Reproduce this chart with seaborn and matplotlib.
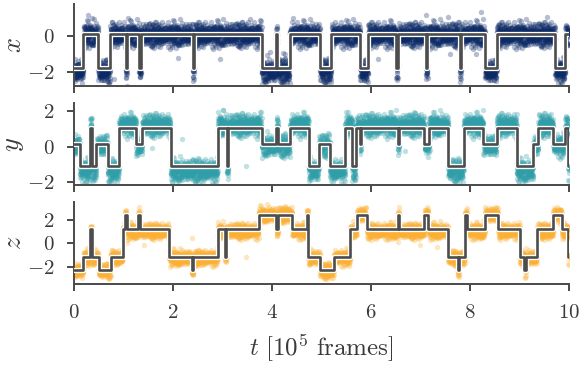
import numpy as np
import pandas as pd
import matplotlib
matplotlib.use("Agg")
import matplotlib.pyplot as plt
import matplotlib.patheffects as pe
import seaborn as sns

# ---- state sequences (start time of each segment, in 1e5 frames) ----
x_breaks = [0.00, 0.19, 0.49, 0.73, 1.04, 1.07, 1.32, 1.35, 2.40, 2.43, 3.79, 4.08,
            4.11, 4.36, 4.97, 5.20, 5.78, 5.94, 6.51, 6.54, 7.11, 7.14, 7.79, 7.82,
            8.30, 8.54, 9.72, 9.92]
x_states = [1, 0, 1, 0, 1, 0, 1, 0, 1, 0, 1, 0,
            1, 0, 1, 0, 1, 0, 1, 0, 1, 0, 1, 0,
            1, 0, 1, 0]
x_line_levels = [0.10, -1.75]
x_point_levels = [0.05, -1.95]

y_breaks = [0.00, 0.12, 0.33, 0.36, 0.45, 0.68, 0.91, 1.25, 1.38, 1.95, 2.90, 3.09,
            3.12, 3.79, 4.09, 4.12, 4.37, 4.74, 4.94, 5.17, 5.48, 5.62, 5.69, 5.77,
            5.80, 6.54, 6.57, 7.08, 7.17, 7.56, 7.87, 8.27, 8.54, 8.94, 9.28, 9.38,
            9.68, 9.92, 9.98]
y_states = [1, 2, 0, 2, 1, 2, 0, 1, 0, 2, 0, 2,
            0, 1, 0, 1, 0, 2, 1, 2, 0, 2, 0, 1,
            0, 1, 0, 1, 0, 2, 0, 1, 0, 2, 1, 0,
            1, 0, 2]
y_line_levels = [1.05, 0.15, -1.10]
y_point_levels = [1.20, 0.05, -1.35]

z_breaks = [0.00, 0.19, 0.33, 0.36, 0.50, 0.74, 0.98, 1.03, 1.06, 1.30, 1.33, 1.92,
            2.38, 2.41, 2.90, 3.05, 3.08, 3.73, 4.09, 4.12, 4.41, 4.70, 4.73, 4.97,
            5.25, 5.58, 5.71, 5.91, 6.54, 6.57, 7.08, 7.16, 7.56, 7.75, 7.78, 7.90,
            7.94, 8.30, 8.57, 9.01, 9.10, 9.13, 9.35, 9.68, 9.85, 9.98]
z_states = [3, 2, 1, 2, 3, 2, 1, 0, 1, 0, 1, 2,
            3, 2, 1, 2, 1, 0, 1, 0, 1, 0, 2, 3,
            2, 1, 0, 1, 0, 1, 0, 1, 2, 3, 2, 0,
            1, 0, 1, 2, 3, 2, 1, 0, 1, 2]
z_line_levels = [2.40, 1.25, -1.15, -2.30]
z_point_levels = [2.45, 1.05, -1.25, -2.35]

# typical frame-to-frame residuals around the state mean
resid_a = [0.12, -0.45, 0.78, -0.05, 0.33, -0.92, 0.21, -0.18, 0.55, -0.62, 0.04, 0.41,
           -0.30, 1.05, -0.11, 0.26, -0.74, 0.09, -0.38, 0.63, -0.22, 0.17, -0.51]
resid_b = [-0.08, 0.36, -0.27, 0.71, -0.49, 0.14, -0.03, 0.52, -0.66, 0.24, -0.15, 0.88,
           -0.35, 0.06, -0.81, 0.43, -0.19, 0.30, -0.57]

# isolated frames far from their state
x_out_t = [0.29, 0.36, 1.10, 2.10, 2.95, 3.56, 3.96, 4.26, 4.43, 0.80, 4.23, 6.15,
           7.12, 7.56, 8.23, 9.55, 7.60, 8.13, 5.84, 7.16]
x_out_v = [1.14, 1.00, 0.95, -1.20, -1.25, 0.90, -0.90, -1.00, 1.00, -2.40, -0.95, -1.30,
           1.15, 1.05, 1.30, 1.05, -1.00, -1.00, -2.30, -2.30]
y_out_t = [3.00, 4.11, 2.19, 3.47, 1.58, 6.86, 8.94, 6.69, 5.68, 7.19]
y_out_v = [2.05, 1.50, 0.45, -1.10, -0.10, 1.95, 1.85, -0.25, -1.85, -0.20]
z_out_t = [2.39, 3.47, 1.41, 1.08, 6.99, 7.33, 7.76, 6.55]
z_out_v = [0.45, -1.15, -0.15, 0.00, -0.15, -0.30, -2.30, 0.15]

panels = [
    dict(name="x", breaks=x_breaks, states=x_states, line=x_line_levels,
         pts=x_point_levels, spread=0.46, out_t=x_out_t, out_v=x_out_v,
         color="#0c2a66", ylim=(-2.78, 1.74), yticks=[-2, 0]),
    dict(name="y", breaks=y_breaks, states=y_states, line=y_line_levels,
         pts=y_point_levels, spread=0.44, out_t=y_out_t, out_v=y_out_v,
         color="#2f9ea8", ylim=(-2.17, 2.46), yticks=[-2, 0, 2]),
    dict(name="z", breaks=z_breaks, states=z_states, line=z_line_levels,
         pts=z_point_levels, spread=0.46, out_t=z_out_t, out_v=z_out_v,
         color="#fbb034", ylim=(-3.49, 3.57), yticks=[-2, 0, 2]),
]

T_END = 10.0
frames = np.linspace(0, T_END, 5000)

sns.set_theme(style="ticks")
plt.rcParams.update({
    "font.family": "serif",
    "font.serif": ["cmr10"],
    "mathtext.fontset": "cm",
    "axes.formatter.use_mathtext": True,
    "axes.unicode_minus": True,
    "axes.edgecolor": "#4a4a4a",
    "axes.linewidth": 1.4,
    "xtick.color": "#4a4a4a",
    "ytick.color": "#4a4a4a",
    "xtick.labelcolor": "#3a3a3a",
    "ytick.labelcolor": "#3a3a3a",
    "xtick.major.width": 1.4,
    "ytick.major.width": 1.4,
    "xtick.major.size": 5,
    "ytick.major.size": 5,
    "xtick.major.pad": 9,
    "ytick.major.pad": 9,
})

fig, axes = plt.subplots(3, 1, sharex=True, figsize=(5.83, 3.67), dpi=100)
fig.subplots_adjust(left=0.127, right=0.976, top=0.989, bottom=0.226, hspace=0.2)

for ax, p in zip(axes, panels):
    breaks = np.asarray(p["breaks"])
    states = np.asarray(p["states"])
    idx = np.searchsorted(breaks, frames, side="right") - 1
    st = states[idx]
    n = len(frames)
    ra = np.asarray(resid_a)[np.arange(n) % len(resid_a)]
    rb = np.asarray(resid_b)[(np.arange(n) * 7) % len(resid_b)]
    vals = np.asarray(p["pts"])[st] + (ra + rb) * p["spread"]
    df = pd.DataFrame({"t": np.concatenate([frames, p["out_t"]]),
                       "v": np.concatenate([vals, p["out_v"]])})
    sns.scatterplot(data=df, x="t", y="v", color=p["color"], s=15, alpha=0.3,
                    linewidth=0, ax=ax, legend=False, zorder=1)

    # piecewise-constant state trajectory
    ends = list(breaks[1:]) + [T_END]
    lt, lv = [], []
    for b0, b1, s in zip(breaks, ends, states):
        lt += [b0, b1]
        lv += [p["line"][s], p["line"][s]]
    sns.lineplot(x=lt, y=lv, estimator=None, sort=False, color="#4d4d4d",
                 linewidth=1.9, ax=ax, zorder=3,
                 path_effects=[pe.Stroke(linewidth=3.8, foreground="white"), pe.Normal()])

    ax.set_ylim(*p["ylim"])
    ax.set_yticks(p["yticks"])
    ax.set_ylabel(f"${p['name']}$", fontsize=19, color="#3a3a3a", labelpad=1)
    ax.tick_params(labelsize=15)
    ax.set_xlim(0, T_END)
    sns.despine(ax=ax)

axes[-1].set_xticks([0, 2, 4, 6, 8, 10])
axes[-1].set_xlabel(r"$t\ [10^5\ \mathrm{frames}]$", fontsize=18, color="#3a3a3a",
                    labelpad=8)

fig.savefig("out.png", dpi=100)
